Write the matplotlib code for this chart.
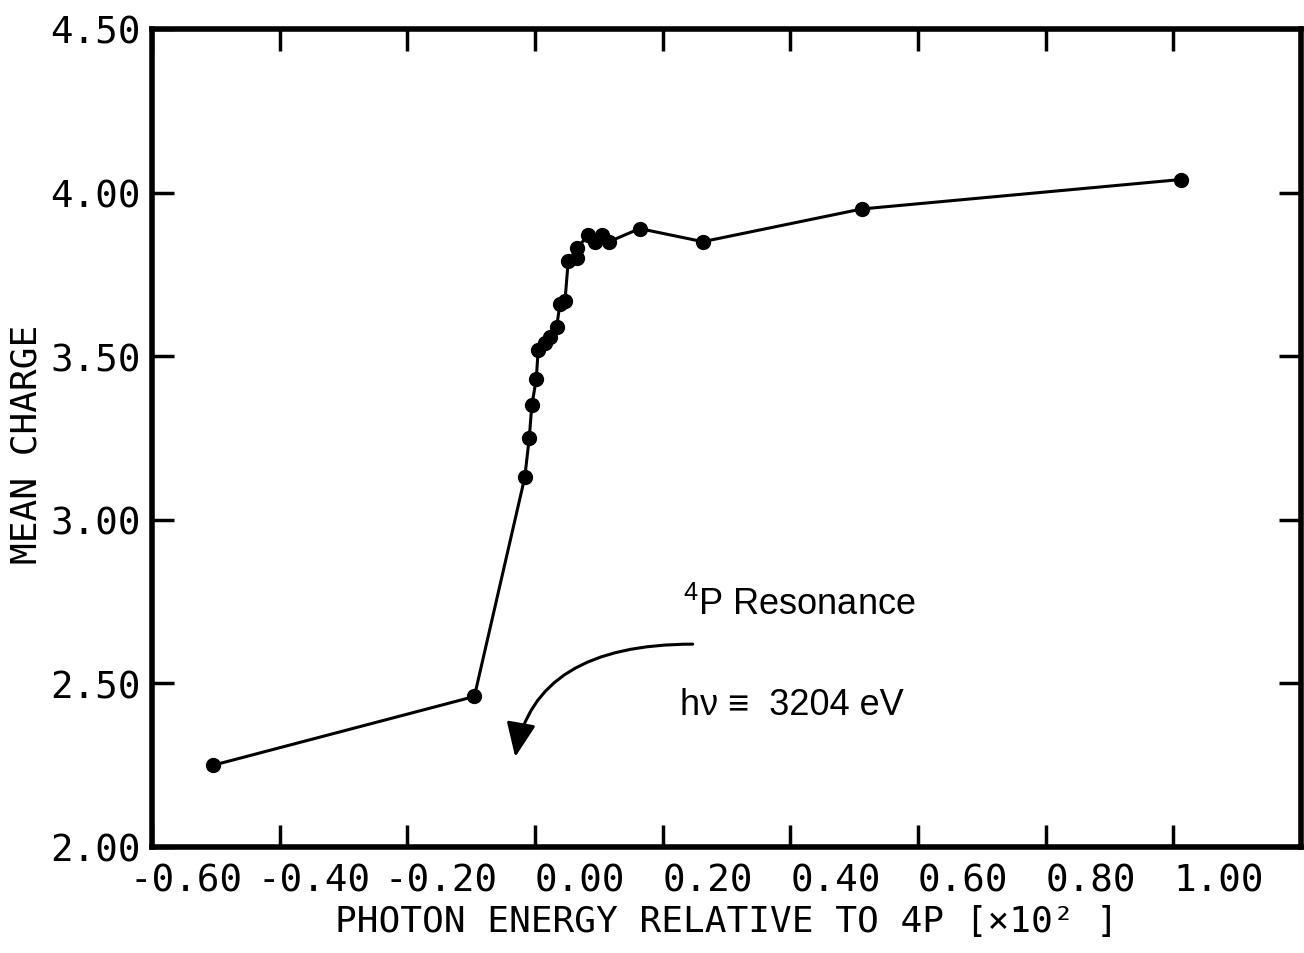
import matplotlib
matplotlib.use("Agg")
import matplotlib.pyplot as plt
from matplotlib.transforms import ScaledTranslation

# --- data: mean charge vs photon energy (relative to 4P, units of 10^2 eV) ---
energy = [-0.504, -0.095, -0.016, -0.009, -0.005, 0.002, 0.005, 0.016, 0.023,
          0.034, 0.039, 0.047, 0.052, 0.066, 0.066, 0.083, 0.094, 0.105,
          0.116, 0.164, 0.263, 0.512, 1.012]
mean_charge = [2.25, 2.46, 3.13, 3.25, 3.35, 3.43, 3.52, 3.54, 3.56,
               3.59, 3.66, 3.67, 3.79, 3.80, 3.83, 3.87, 3.85, 3.87,
               3.85, 3.89, 3.85, 3.95, 4.04]

x_ticks = [-0.60, -0.40, -0.20, 0.00, 0.20, 0.40, 0.60, 0.80, 1.00]
y_ticks = [2.00, 2.50, 3.00, 3.50, 4.00, 4.50]

mono = "DejaVu Sans Mono"
sans = ["Liberation Sans", "DejaVu Sans"]
plt.rcParams["mathtext.fontset"] = "custom"
plt.rcParams["mathtext.rm"] = "Liberation Sans"

fig = plt.figure(figsize=(13.04, 9.54), dpi=100)
ax = fig.add_axes([152 / 1304, 106 / 954, 1149 / 1304, 818 / 954])

ax.plot(energy, mean_charge, "-o", color="black", lw=2.2, ms=10, zorder=3)

ax.set_xlim(-0.60, 1.20)
ax.set_ylim(2.00, 4.50)

for side in ax.spines.values():
    side.set_linewidth(4)

fs = 27
ax.set_xticks(x_ticks)
ax.set_yticks(y_ticks)
ax.tick_params(direction="in", length=16, width=2.5, top=True, right=True,
               labelsize=fs)
ax.tick_params(axis="x", pad=11)
ax.tick_params(axis="y", pad=8)

# x labels start at the tick, minus sign hangs to the left
ax.set_xticklabels([f"{v:.2f}" for v in x_ticks], fontfamily=mono, ha="left")
for v, lab in zip(x_ticks, ax.get_xticklabels()):
    shift = -0.602 * fs / 72 if v < 0 else 0
    lab.set_transform(lab.get_transform() + ScaledTranslation(shift, 0, fig.dpi_scale_trans))
ax.set_yticklabels([f"{v:.2f}" for v in y_ticks], fontfamily=mono)

ax.set_xlabel("PHOTON ENERGY RELATIVE TO 4P [×10² ]", fontfamily=mono,
              fontsize=26, labelpad=4)
ax.set_ylabel("MEAN CHARGE", fontfamily=mono, fontsize=26)
ax.yaxis.set_label_coords(-0.094, 0.493)

# resonance annotation
ax.text(0.232, 2.743, r"$^{4}$P Resonance", fontfamily=sans, fontsize=26,
        ha="left", va="center")
ax.text(0.227, 2.437, "hν ≡  3204 eV", fontfamily=sans, fontsize=26,
        ha="left", va="center")
ax.annotate("", xy=(-0.031, 2.275), xytext=(0.247, 2.620),
            arrowprops=dict(arrowstyle="-|>,head_length=1.4,head_width=0.6",
                            mutation_scale=15, color="black", lw=2.2,
                            shrinkA=0, shrinkB=0,
                            connectionstyle="angle3,angleA=0,angleB=80"))

fig.savefig("out.png", dpi=100)
